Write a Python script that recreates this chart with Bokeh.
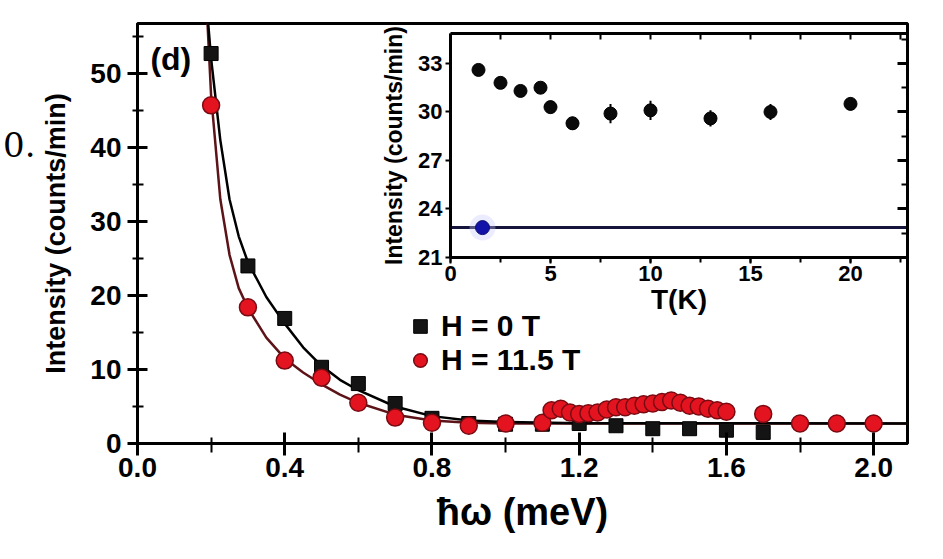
from bokeh.plotting import figure
from bokeh.models import (Range1d, LinearAxis, SingleIntervalTicker, PrintfTickFormatter,
                          Legend, LegendItem, Label, ColumnDataSource, FixedTicker,
                          CustomJSTickFormatter)
from bokeh.embed import file_html
from bokeh.resources import INLINE

# ---------------- data ----------------
# main panel: H = 0 T (black squares)
energy_0T = [0.2, 0.3, 0.4, 0.5, 0.6, 0.7, 0.8, 0.9, 1.0, 1.1, 1.2, 1.3, 1.4, 1.5, 1.6, 1.7]
counts_0T = [52.7, 24.0, 16.9, 10.3, 8.1, 5.4, 3.4, 2.7, 2.6, 2.6, 2.7, 2.4, 2.0, 2.0, 1.8, 1.5]

# main panel: H = 11.5 T (red circles)
energy_115T = [0.2, 0.3, 0.4, 0.5, 0.6, 0.7, 0.8, 0.9, 1.0, 1.1,
               1.125, 1.15, 1.175, 1.2, 1.225, 1.25, 1.275, 1.3, 1.325, 1.35, 1.375,
               1.4, 1.425, 1.45, 1.475, 1.5, 1.525, 1.55, 1.575, 1.6,
               1.7, 1.8, 1.9, 2.0]
counts_115T = [45.7, 18.4, 11.2, 8.9, 5.5, 3.5, 2.8, 2.4, 2.7, 2.8,
               4.5, 4.7, 4.2, 4.0, 4.1, 4.2, 4.6, 4.9, 4.9, 5.1, 5.3,
               5.4, 5.6, 5.8, 5.5, 5.1, 5.0, 4.7, 4.5, 4.3,
               4.0, 2.7, 2.7, 2.7]

# fitted curves
fit_energy = [0.19, 0.2, 0.225, 0.25, 0.275, 0.3, 0.35, 0.4, 0.45, 0.5, 0.55, 0.6,
              0.7, 0.8, 0.9, 1.0, 1.2, 2.1]
fit_0T = [58.0, 52.0, 41.0, 33.0, 28.0, 24.5, 19.8, 16.2, 13.0, 10.5, 8.6, 7.2,
          5.0, 3.7, 3.1, 2.9, 2.75, 2.7]
fit_115T = [57.0, 47.0, 33.0, 25.5, 21.0, 18.3, 14.3, 11.5, 9.6, 8.0, 6.6, 5.5,
            3.9, 3.1, 2.8, 2.7, 2.7, 2.7]

# inset: intensity vs temperature
inset_T = [1.4, 2.5, 3.5, 4.5, 5.0, 6.1, 8.0, 10.0, 13.0, 16.0, 20.0]
inset_I = [32.6, 31.8, 31.3, 31.5, 30.3, 29.3, 29.9, 30.1, 29.6, 30.0, 30.5]
inset_err = [0.3, 0.3, 0.3, 0.3, 0.4, 0.4, 0.6, 0.6, 0.5, 0.5, 0.4]
background_T = [1.6]
background_I = [22.85]
background_level = 22.85
inset_T_extent = [0.0, 22.85]
inset_I_extent = [21.0, 34.85]

FONT = "Liberation Sans"

# ---------------- main figure ----------------
p = figure(width=943, height=559, x_range=Range1d(0, 2.092), y_range=Range1d(0, 56.76),
           output_backend="svg", toolbar_location=None,
           x_axis_type=None, y_axis_type=None,
           min_border_left=137, min_border_right=36, min_border_top=23, min_border_bottom=116)
p.outline_line_color = "black"
p.outline_line_width = 3
p.background_fill_color = "white"
p.border_fill_color = "white"

p.extra_x_ranges = {"ix": Range1d(-15.65, 22.85)}
p.extra_y_ranges = {"iy": Range1d(9.50, 35.47)}


def style_axis(ax, label_size, tick_size):
    ax.axis_label_text_font = FONT
    ax.axis_label_text_font_style = "bold"
    ax.axis_label_text_font_size = label_size
    ax.major_label_text_font = FONT
    ax.major_label_text_font_style = "bold"
    ax.major_label_text_font_size = tick_size
    ax.axis_label_text_color = "black"
    ax.major_label_text_color = "black"


xa = LinearAxis(ticker=SingleIntervalTicker(interval=0.4, num_minor_ticks=2),
                formatter=PrintfTickFormatter(format="%.1f"), axis_label="ħω (meV)")
style_axis(xa, "38px", "28px")
xa.axis_line_width = 3
xa.major_tick_line_width = 3
xa.minor_tick_line_width = 2
xa.major_tick_in = 11
xa.major_tick_out = 12
xa.minor_tick_in = 6
xa.minor_tick_out = 9
xa.major_label_standoff = 2
xa.axis_label_standoff = 11
p.add_layout(xa, "below")

ya = LinearAxis(ticker=SingleIntervalTicker(interval=10, num_minor_ticks=2),
                axis_label="Intensity (counts/min)")
style_axis(ya, "27px", "28px")
ya.axis_line_width = 3
ya.major_tick_line_width = 3
ya.minor_tick_line_width = 2
ya.major_tick_in = 10
ya.major_tick_out = 10
ya.minor_tick_in = 6
ya.minor_tick_out = 5
ya.major_label_standoff = 6
ya.axis_label_standoff = 16
p.add_layout(ya, "left")

# stray serif text at the far left of the picture ("0.")
stray = LinearAxis(ticker=FixedTicker(ticks=[40.4], minor_ticks=[]),
                   formatter=CustomJSTickFormatter(code="return '0.';"))
stray.axis_line_color = None
stray.major_tick_line_color = None
stray.major_tick_out = 0
stray.major_tick_in = 0
stray.major_label_standoff = 3
stray.major_label_text_font = "DejaVu Serif"
stray.major_label_text_font_size = "34px"
stray.major_label_text_color = "black"
p.add_layout(stray, "left")

# ---------------- inset axes (inside the main frame) ----------------
ib = LinearAxis(x_range_name="ix", y_range_name="iy", fixed_location=inset_I_extent[0],
                bounds=tuple(inset_T_extent),
                ticker=SingleIntervalTicker(interval=5, num_minor_ticks=2), axis_label="T(K)")
style_axis(ib, "28px", "22px")
ib.axis_line_width = 3
ib.major_tick_line_width = 2
ib.minor_tick_line_width = 2
ib.major_tick_in = 0
ib.major_tick_out = 6
ib.minor_tick_in = 0
ib.minor_tick_out = 5
ib.major_label_standoff = 2
ib.axis_label_standoff = 0
p.add_layout(ib, "below")

il = LinearAxis(x_range_name="ix", y_range_name="iy", fixed_location=inset_T_extent[0],
                bounds=tuple(inset_I_extent),
                ticker=SingleIntervalTicker(interval=3, num_minor_ticks=2),
                axis_label="Intensity (counts/min)")
style_axis(il, "23px", "22px")
il.axis_line_width = 3
il.major_tick_line_width = 2
il.minor_tick_line_color = None
il.major_tick_in = 0
il.major_tick_out = 5
il.major_label_standoff = 3
il.axis_label_standoff = 8
p.add_layout(il, "left")

it = LinearAxis(x_range_name="ix", y_range_name="iy", fixed_location=inset_I_extent[1],
                bounds=tuple(inset_T_extent),
                ticker=SingleIntervalTicker(interval=2.5, num_minor_ticks=0))
it.axis_line_width = 3
it.major_tick_line_width = 2
it.major_tick_in = 6
it.major_tick_out = 0
it.major_label_text_color = None
p.add_layout(it, "above")

ir = LinearAxis(x_range_name="ix", y_range_name="iy", fixed_location=inset_T_extent[1],
                bounds=tuple(inset_I_extent),
                ticker=SingleIntervalTicker(interval=3, num_minor_ticks=2))
ir.axis_line_width = 3
ir.major_tick_line_width = 3
ir.minor_tick_line_width = 2
ir.major_tick_in = 10
ir.major_tick_out = 0
ir.minor_tick_in = 6
ir.minor_tick_out = 0
ir.major_label_text_color = None
p.add_layout(ir, "right")

# ---------------- main data ----------------
p.line(fit_energy, fit_115T, line_color="#5c1418", line_width=2.5)
p.line(fit_energy, fit_0T, line_color="black", line_width=2.5)

r_black = p.scatter(energy_0T, counts_0T, marker="square", size=14,
                    fill_color="#141414", line_color="#000000", line_width=1)
r_red = p.scatter(energy_115T, counts_115T, marker="circle", size=17,
                  fill_color="#e3141f", line_color="#7a0a12", line_width=1.5)

# ---------------- inset data ----------------
p.line(inset_T_extent, [background_level, background_level], x_range_name="ix", y_range_name="iy",
       line_color="#14143c", line_width=3)
err_src = ColumnDataSource(dict(
    x=inset_T,
    lo=[v - e for v, e in zip(inset_I, inset_err)],
    hi=[v + e for v, e in zip(inset_I, inset_err)]))
p.segment(x0="x", y0="lo", x1="x", y1="hi", source=err_src, x_range_name="ix", y_range_name="iy",
          line_color="black", line_width=2)
p.scatter(inset_T, inset_I, x_range_name="ix", y_range_name="iy", marker="circle", size=13,
          fill_color="#0a0a0a", line_color="black")
p.scatter(background_T, background_I, x_range_name="ix", y_range_name="iy", marker="circle",
          size=26, fill_color="#c8c8ff", fill_alpha=0.35, line_color=None)
p.scatter(background_T, background_I, x_range_name="ix", y_range_name="iy", marker="circle",
          size=14, fill_color="#1212a8", line_color="#0a0a70")

# ---------------- legend ----------------
legend = Legend(items=[LegendItem(label="H = 0 T", renderers=[r_black]),
                       LegendItem(label="H = 11.5 T", renderers=[r_red])],
                location=(266, 66), orientation="vertical",
                glyph_width=34, glyph_height=34, label_height=34, spacing=0, padding=0, margin=0,
                label_standoff=4, border_line_color=None, background_fill_alpha=0,
                label_text_font=FONT, label_text_font_style="bold", label_text_font_size="30px",
                label_text_color="black")
p.add_layout(legend)

# ---------------- texts ----------------
p.add_layout(Label(x=0.035, y=52.0, text="(d)", text_font=FONT, text_font_style="bold",
                   text_font_size="32px", text_baseline="middle", text_align="left",
                   text_color="black"))

open("out.html", "w").write(file_html(p, INLINE))
